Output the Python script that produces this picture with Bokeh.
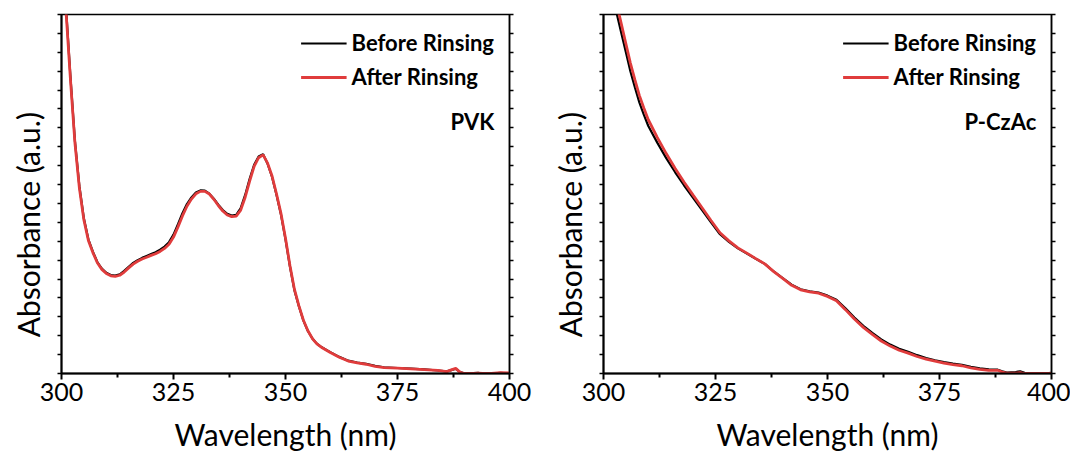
from bokeh.plotting import figure
from bokeh.layouts import row
from bokeh.models import Range1d, FixedTicker, LinearAxis, Legend, LegendItem, Label, CustomJSTickFormatter
from bokeh.embed import file_html
from bokeh.resources import INLINE

# ---------------- data ----------------
pvk_wl = [300, 301, 302, 303, 304, 305, 306, 307, 308, 309, 310, 311, 312, 313, 314, 315, 316, 317, 318, 319,
          320, 321, 322, 323, 324, 325, 326, 327, 328, 329, 330, 331, 332, 333, 334, 335, 336, 337, 338, 339,
          340, 341, 342, 343, 344, 345, 346, 347, 348, 349, 350, 351, 352, 353, 354, 355, 356, 357, 358, 360,
          362, 364, 366, 368, 370, 372, 375, 378, 381, 384, 386, 387, 388, 389, 390, 392, 393, 394, 396, 398, 400]
pvk_before = [2.32, 1.94, 1.57, 1.23, 0.99, 0.82, 0.71, 0.645, 0.59, 0.555, 0.533, 0.521, 0.518, 0.525, 0.543, 0.565,
              0.585, 0.6, 0.612, 0.622, 0.632, 0.642, 0.655, 0.672, 0.695, 0.735, 0.79, 0.848, 0.897, 0.932, 0.958,
              0.969, 0.968, 0.952, 0.925, 0.893, 0.865, 0.845, 0.836, 0.84, 0.875, 0.945, 1.03, 1.105, 1.148, 1.16,
              1.11, 1.04, 0.945, 0.84, 0.71, 0.565, 0.44, 0.355, 0.28, 0.225, 0.185, 0.158, 0.14, 0.113, 0.088,
              0.068, 0.058, 0.051, 0.04, 0.033, 0.029, 0.026, 0.022, 0.016, 0.011, 0.018, 0.025, 0.007, 0.0, 0.002,
              0.004, 0.0, 0.0, 0.003, 0.0]
pvk_after = [2.3, 1.92, 1.555, 1.22, 0.98, 0.812, 0.704, 0.64, 0.586, 0.551, 0.529, 0.517, 0.514, 0.52, 0.537, 0.559,
             0.579, 0.594, 0.606, 0.615, 0.625, 0.634, 0.646, 0.662, 0.684, 0.722, 0.776, 0.834, 0.885, 0.923, 0.951,
             0.964, 0.964, 0.95, 0.922, 0.889, 0.86, 0.839, 0.83, 0.833, 0.865, 0.933, 1.018, 1.096, 1.142, 1.157,
             1.113, 1.045, 0.95, 0.846, 0.716, 0.57, 0.445, 0.358, 0.282, 0.226, 0.185, 0.157, 0.139, 0.111, 0.086,
             0.066, 0.056, 0.049, 0.038, 0.031, 0.028, 0.025, 0.021, 0.017, 0.01, 0.019, 0.027, 0.006, 0.0, 0.0,
             0.002, 0.0, 0.0, 0.005, 0.003]

cz_wl = [300, 301, 302, 303, 304, 305, 306, 307, 308, 309, 310, 312, 314, 316, 318, 320, 322, 324, 326, 328,
         330, 332, 334, 336, 338, 340, 342, 344, 346, 348, 350, 352, 354, 356, 358, 360, 362, 364, 366, 368,
         370, 372, 374, 376, 378, 380, 382, 384, 386, 388, 389, 390, 392, 393, 394, 396, 398, 400]
cz_before = [2.25, 2.12, 2.0, 1.9, 1.8, 1.7, 1.6, 1.515, 1.435, 1.37, 1.31, 1.222, 1.14, 1.065, 0.995, 0.93, 0.865,
             0.8, 0.737, 0.697, 0.662, 0.635, 0.607, 0.58, 0.54, 0.505, 0.47, 0.446, 0.435, 0.428, 0.412, 0.39,
             0.345, 0.296, 0.252, 0.215, 0.18, 0.153, 0.131, 0.115, 0.097, 0.082, 0.07, 0.06, 0.052, 0.046, 0.035,
             0.027, 0.022, 0.02, 0.012, 0.005, 0.008, 0.012, 0.004, 0.0, 0.0, 0.003]
cz_after = [2.31, 2.18, 2.055, 1.95, 1.848, 1.745, 1.643, 1.555, 1.472, 1.405, 1.343, 1.25, 1.164, 1.085, 1.012,
            0.944, 0.877, 0.81, 0.745, 0.702, 0.665, 0.637, 0.608, 0.58, 0.539, 0.503, 0.467, 0.443, 0.432, 0.425,
            0.408, 0.385, 0.338, 0.288, 0.244, 0.207, 0.172, 0.145, 0.123, 0.108, 0.09, 0.076, 0.065, 0.055, 0.047,
            0.041, 0.03, 0.022, 0.017, 0.017, 0.008, 0.002, 0.002, 0.005, 0.0, 0.0, 0.0, 0.0]

x_major = [300, 325, 350, 375, 400]
x_minor = [312.5, 337.5, 362.5, 387.5]
y_ticks = [round(0.1 * i, 1) for i in range(20)]
series_names = ["Before Rinsing", "After Rinsing"]
panel_names = ["PVK", "P-CzAc"]
x_title = "Wavelength (nm)"
y_title = "Absorbance (a.u.)"

FONT = "Lato"
RED = "#e03c3c"
H = 456
NBSP = "\u00a0"


def make_panel(wl, before, after, name, width, border_left, border_right):
    p = figure(width=width, height=H, output_backend="svg", toolbar_location=None,
               x_range=Range1d(300, 400), y_range=Range1d(0, 1.9),
               min_border_left=border_left, min_border_right=border_right,
               min_border_top=14, min_border_bottom=83)
    p.grid.visible = False
    p.outline_line_color = "black"
    p.outline_line_width = 1.5
    p.background_fill_color = "white"

    # x axis
    xa = p.xaxis[0]
    xa.ticker = FixedTicker(ticks=x_major, minor_ticks=x_minor)
    xa.axis_line_width = 2
    xa.major_tick_line_width = 2
    xa.minor_tick_line_width = 2
    xa.major_tick_in = 0
    xa.major_tick_out = 6
    xa.minor_tick_in = 0
    xa.minor_tick_out = 4
    xa.major_label_text_font = FONT
    xa.major_label_text_font_size = "25px"
    xa.major_label_text_color = "black"
    xa.major_label_standoff = 3
    xa.axis_label = x_title
    xa.axis_label_text_font = FONT
    xa.axis_label_text_font_size = "30px"
    xa.axis_label_text_font_style = "normal"
    xa.axis_label_text_color = "black"
    xa.axis_label_standoff = 12

    # y axis (no labels)
    ya = p.yaxis[0]
    ya.ticker = FixedTicker(ticks=y_ticks)
    ya.formatter = CustomJSTickFormatter(code="return '';")
    ya.axis_line_width = 2
    ya.major_tick_line_width = 1.5
    ya.major_tick_in = 0
    ya.major_tick_out = 4
    ya.minor_tick_line_color = None
    ya.major_label_text_font_size = "1px"
    ya.major_label_standoff = 0
    # trailing non-breaking spaces push the visible title below centre, as in the reference
    ya.axis_label = y_title + NBSP * 8
    ya.axis_label_text_font = FONT
    ya.axis_label_text_font_size = "30px"
    ya.axis_label_text_font_style = "normal"
    ya.axis_label_text_color = "black"
    ya.axis_label_standoff = 12

    ra = LinearAxis(ticker=FixedTicker(ticks=y_ticks), formatter=CustomJSTickFormatter(code="return '';"))
    ra.axis_line_width = 1.5
    ra.major_tick_line_width = 1.5
    ra.major_tick_in = 0
    ra.major_tick_out = 4
    ra.minor_tick_line_color = None
    ra.major_label_text_font_size = "1px"
    ra.major_label_standoff = 0
    p.add_layout(ra, "right")

    l1 = p.line(wl, before, line_color="black", line_width=2.2)
    l2 = p.line(wl, after, line_color=RED, line_width=2.8)

    leg = Legend(items=[LegendItem(label=series_names[0], renderers=[l1]),
                        LegendItem(label=series_names[1], renderers=[l2])],
                 location="top_right")
    leg.background_fill_alpha = 0
    leg.border_line_alpha = 0
    leg.label_text_font = FONT
    leg.label_text_font_style = "bold"
    leg.label_text_font_size = "22px"
    leg.label_text_color = "black"
    leg.glyph_width = 46
    leg.glyph_height = 24
    leg.label_standoff = 5
    leg.spacing = 7
    leg.padding = 4
    leg.margin = 11
    leg.label_height = 24
    p.add_layout(leg)

    lab = Label(x=396.6, y=1.335, text=name, text_font=FONT, text_font_style="bold",
                text_font_size="22px", text_align="right", text_baseline="middle", text_color="black")
    p.add_layout(lab)
    return p


p1 = make_panel(pvk_wl, pvk_before, pvk_after, panel_names[0], 548, 61, 39)
p2 = make_panel(cz_wl, cz_before, cz_after, panel_names[1], 522, 55, 19)

layout = row(p1, p2)
open("out.html", "w").write(file_html(layout, INLINE))
